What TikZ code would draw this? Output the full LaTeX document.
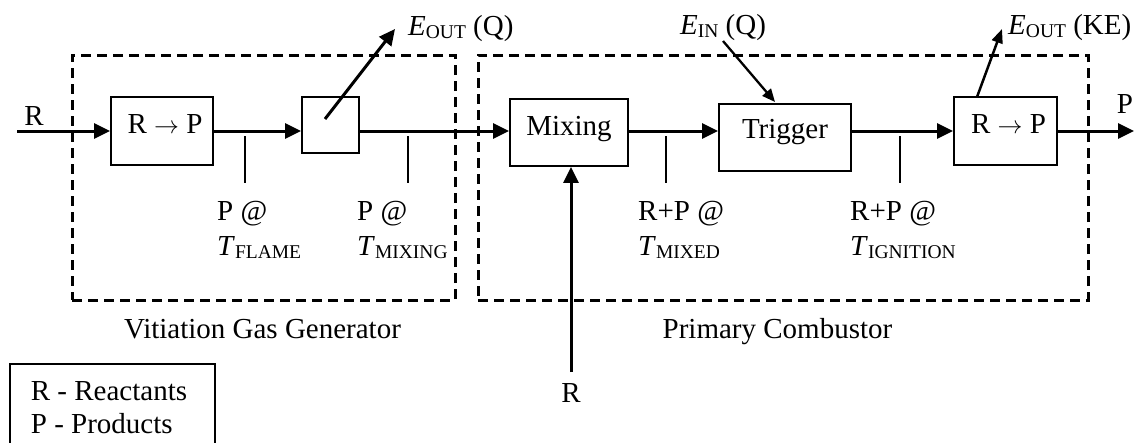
\documentclass[tikz,border=0pt]{standalone}
\usepackage{fontspec}
\setmainfont{Liberation Serif}
\usetikzlibrary{arrows.meta}
\newcommand\lowsub[1]{\raisebox{-3pt}{\fontsize{19.5}{20}\selectfont #1}}
\begin{document}
\begin{tikzpicture}[x=1pt,y=-1pt,
  font=\fontsize{29}{35}\selectfont,
  dashbox/.style={draw, line width=3pt, dash pattern=on 10pt off 6pt, inner sep=0pt},
  procbox/.style={draw, line width=1.8pt, inner sep=0pt},
  lab/.style={inner sep=0pt},
  flow/.style={line width=3pt, -{Triangle[length=16pt,width=15pt]}},
  ein/.style={line width=2.3pt, -{Triangle[length=13pt,width=11pt]}},
  eoutke/.style={line width=2.5pt, -{Triangle[length=14pt,width=11pt]}},
  tickmark/.style={line width=1.5pt}]
\useasboundingbox (0,0) rectangle (1135,442);

% dashed group boxes
\node[dashbox, minimum width=383pt, minimum height=245pt] (vgg) at (263.5,177.5) {};
\node[dashbox, minimum width=610pt, minimum height=245pt] (pc) at (783,177.5) {};

% process boxes
\node[procbox, minimum width=102pt, minimum height=68pt, text height=20pt, text depth=16pt] (b1) at (162,131) {\hspace{6pt}R \(\rightarrow\) P};
\node[procbox, minimum width=57pt, minimum height=56pt] (b2) at (330.5,125) {};
\node[procbox, minimum width=118pt, minimum height=67pt, text height=21pt, text depth=16pt] (mix) at (569,132.5) {Mixing};
\node[procbox, minimum width=132pt, minimum height=67pt, text height=20pt, text depth=19pt] (trig) at (785,137.5) {Trigger};
\node[procbox, minimum width=103pt, minimum height=68pt, text height=20pt, text depth=16pt] (b3) at (1005.5,131) {\hspace{6pt}R \(\rightarrow\) P};

% labels
\node[lab, anchor=base] (rin) at (34,125) {R};
\node[lab, anchor=base] (pout) at (1125,113) {P};
\node[lab, anchor=base] (rbot) at (571,402) {R};
\node[lab, anchor=base west] (eoq) at (408,35) {\textit{E}\lowsub{OUT} (Q)};
\node[lab, anchor=base west] (eiq) at (680,34) {\textit{E}\lowsub{IN} (Q)};
\node[lab, anchor=base west] (eoke) at (1008,34) {\textit{E}\lowsub{OUT} (KE)};
\node[lab, anchor=base west] (tf) at (217,220) {\begin{tabular}[t]{@{}l@{}}P @\\\textit{T}\lowsub{FLAME}\end{tabular}};
\node[lab, anchor=base west] (tm) at (357,220) {\begin{tabular}[t]{@{}l@{}}P @\\\textit{T}\lowsub{MIXING}\end{tabular}};
\node[lab, anchor=base west] (tmx) at (638,220) {\begin{tabular}[t]{@{}l@{}}R+P @\\\textit{T}\lowsub{MIXED}\end{tabular}};
\node[lab, anchor=base west] (tig) at (850,220) {\begin{tabular}[t]{@{}l@{}}R+P @\\\textit{T}\lowsub{IGNITION}\end{tabular}};
\node[lab, anchor=base] (vgglab) at (262.5,338) {Vitiation Gas Generator};
\node[lab, anchor=base] (pclab) at (777.5,338) {Primary Combustor};

% legend
\node[draw, line width=1.8pt, anchor=north west, inner xsep=21pt, inner ysep=0pt,
      text height=37pt, text depth=60pt, font=\fontsize{29}{33}\selectfont] (leg) at (9,363)
  {\begin{tabular}[t]{@{}p{163pt}@{}}R - Reactants\\P - Products\end{tabular}};

% free ends
\coordinate (inR) at (17,131);
\coordinate (outP) at (1134,131);
\coordinate (rs) at (571,372);
\coordinate (eqs) at (325,119);
\coordinate (eqe) at (395,29);
\coordinate (eis) at (723,41);
\coordinate (eie) at (775,102);
\coordinate (eks) at (977,97);
\coordinate (eke) at (1002,29);

% connectors
\draw[flow] (inR) -- (b1.west);
\draw[flow] (b1.east) -- (b1.east -| b2.west);
\draw[flow] (inR -| b2.east) -- (inR -| mix.west);
\draw[flow] (inR -| mix.east) -- (inR -| trig.west);
\draw[flow] (inR -| trig.east) -- (b3.west);
\draw[flow] (b3.east) -- (outP);
\draw[flow] (rs) -- (rs |- mix.south);
\draw[flow] (eqs) -- (eqe);
\draw[ein] (eis) -- (eie);
\draw[eoutke] (eks) -- (eke);

% state ticks
\draw[tickmark] (245,136) -- (245,183);
\draw[tickmark] (408,136) -- (408,183);
\draw[tickmark] (666,136) -- (666,183);
\draw[tickmark] (900,136) -- (900,183);
\end{tikzpicture}
\end{document}
